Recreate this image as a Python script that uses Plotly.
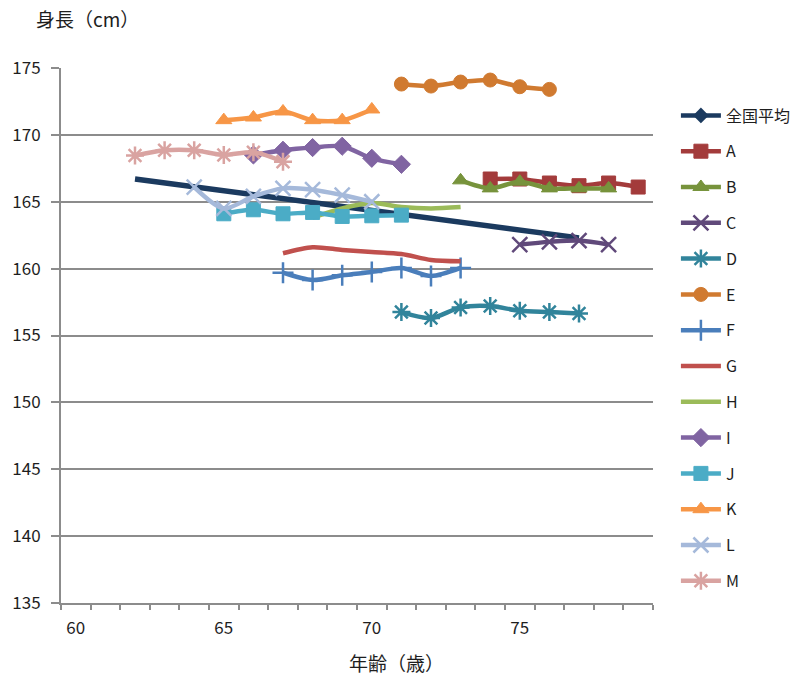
import plotly.graph_objects as go

# Height by age for the national average and regions A–M
ages_avg = [62, 77]
h_avg = [166.7, 162.3]

ages_A = [74, 75, 76, 77, 78, 79]
h_A = [166.7, 166.7, 166.4, 166.2, 166.4, 166.1]

ages_B = [73, 74, 75, 76, 77, 78]
h_B = [166.6, 166.0, 166.5, 166.0, 166.0, 166.0]

ages_C = [75, 76, 77, 78]
h_C = [161.8, 162.0, 162.1, 161.8]

ages_D = [71, 72, 73, 74, 75, 76, 77]
h_D = [156.75, 156.3, 157.1, 157.2, 156.85, 156.75, 156.65]

ages_E = [71, 72, 73, 74, 75, 76]
h_E = [173.8, 173.65, 173.95, 174.1, 173.6, 173.4]

ages_F = [67, 68, 69, 70, 71, 72, 73]
h_F = [159.7, 159.15, 159.5, 159.75, 160.05, 159.45, 160.05]

ages_G = [67, 68, 69, 70, 71, 72, 73]
h_G = [161.15, 161.6, 161.4, 161.25, 161.1, 160.65, 160.55]

ages_H = [68, 69, 70, 71, 72, 73]
h_H = [163.8, 164.5, 164.9, 164.6, 164.5, 164.6]

ages_I = [66, 67, 68, 69, 70, 71]
h_I = [168.5, 168.85, 169.05, 169.15, 168.25, 167.8]

ages_J = [65, 66, 67, 68, 69, 70, 71]
h_J = [164.1, 164.4, 164.1, 164.2, 163.9, 163.95, 164.0]

ages_K = [65, 66, 67, 68, 69, 70]
h_K = [171.1, 171.3, 171.75, 171.1, 171.1, 171.9]

ages_L = [64, 65, 66, 67, 68, 69, 70]
h_L = [166.1, 164.5, 165.4, 166.0, 165.9, 165.5, 165.0]

ages_M = [62, 63, 64, 65, 66, 67]
h_M = [168.45, 168.85, 168.85, 168.5, 168.7, 168.0]

x_labels = [60, 65, 70, 75]
y_ticks = [135, 140, 145, 150, 155, 160, 165, 170, 175]

FONT = "Noto Sans CJK JP, Noto Sans, sans-serif"
TEXT_C = "#1E1E1E"

# name, ages, heights, colour, marker symbol (None = line only)
series = [
    ("A", ages_A, h_A, "#A33B3B", "square"),
    ("B", ages_B, h_B, "#77933C", "triangle-up"),
    ("C", ages_C, h_C, "#60497A", "x-thin"),
    ("D", ages_D, h_D, "#31849B", "asterisk"),
    ("E", ages_E, h_E, "#D07A30", "circle"),
    ("F", ages_F, h_F, "#4A7EBB", "cross-thin"),
    ("G", ages_G, h_G, "#C0504D", None),
    ("H", ages_H, h_H, "#9BBB59", None),
    ("I", ages_I, h_I, "#8064A2", "diamond"),
    ("J", ages_J, h_J, "#4BACC6", "square"),
    ("K", ages_K, h_K, "#F79646", "triangle-up"),
    ("L", ages_L, h_L, "#A5B9DA", "x-thin"),
    ("M", ages_M, h_M, "#D9A3A1", "asterisk"),
]

LINE_W = 4.5
open_symbols = {"x-thin", "asterisk", "cross-thin"}

fig = go.Figure()

avg_color = "#1B3A5F"
# national average: plain line, legend entry carries the diamond marker
fig.add_trace(go.Scatter(
    x=ages_avg, y=h_avg, mode="lines", showlegend=False,
    line=dict(color=avg_color, width=5.5),
))
fig.add_trace(go.Scatter(
    x=[None], y=[None], mode="lines+markers", name="全国平均",
    legendgroup="avg",
    line=dict(color=avg_color, width=LINE_W),
    marker=dict(symbol="diamond", size=12, color=avg_color),
))

for name, xs, ys, color, sym in series:
    if sym is None:
        fig.add_trace(go.Scatter(
            x=xs, y=ys, mode="lines", name=name, legendgroup=name,
            line=dict(color=color, width=LINE_W, shape="spline", smoothing=0.8),
        ))
    else:
        if sym in open_symbols:
            marker = dict(symbol=sym, size=15, color=color,
                          line=dict(color=color, width=2.5))
        else:
            marker = dict(symbol=sym, size=14, color=color,
                          line=dict(color=color, width=1))
        fig.add_trace(go.Scatter(
            x=xs, y=ys, mode="lines+markers", name=name, legendgroup=name,
            line=dict(color=color, width=LINE_W, shape="spline", smoothing=0.8),
            marker=marker,
        ))

grid_c = "#8C8C8C"

fig.update_layout(
    width=808, height=681,
    margin=dict(l=61, r=153, t=68, b=78),
    paper_bgcolor="white", plot_bgcolor="white",
    font=dict(family=FONT, size=16, color=TEXT_C),
    showlegend=True,
    legend=dict(
        x=1.0387, xanchor="left", y=0.943, yanchor="top",
        font=dict(family=FONT, size=16, color=TEXT_C),
        tracegroupgap=12, itemwidth=40,
        bgcolor="rgba(0,0,0,0)",
    ),
    xaxis=dict(
        range=[59.5, 79.5],
        tickmode="array", tickvals=x_labels, ticktext=[str(v) for v in x_labels],
        ticks="", showgrid=False, zeroline=False,
        showline=True, linecolor=grid_c, linewidth=2,
        tickfont=dict(size=17), ticklabelstandoff=9,
        minor=dict(tickmode="array",
                   tickvals=[59.5 + i for i in range(21)],
                   ticks="outside", ticklen=5, tickwidth=1.5, tickcolor=grid_c,
                   showgrid=False),
    ),
    yaxis=dict(
        range=[135, 175],
        tickmode="array", tickvals=y_ticks,
        ticks="outside", ticklen=8, tickwidth=1.5, tickcolor=grid_c,
        showgrid=True, gridcolor=grid_c, gridwidth=2,
        zeroline=False, showline=True, linecolor=grid_c, linewidth=2,
        tickfont=dict(size=17), ticklabelstandoff=7,
    ),
    annotations=[
        dict(text="身長（cm）", xref="paper", yref="paper",
             x=-0.046, y=1.093, xanchor="left", yanchor="middle",
             showarrow=False, font=dict(family=FONT, size=19, color=TEXT_C)),
        dict(text="年齢（歳）", xref="paper", yref="paper",
             x=0.566, y=-0.111, xanchor="center", yanchor="middle",
             showarrow=False, font=dict(family=FONT, size=19, color=TEXT_C)),
    ],
)

fig.write_html("out.html")
